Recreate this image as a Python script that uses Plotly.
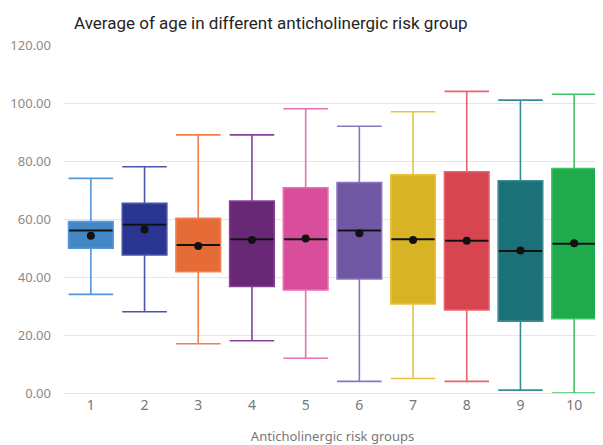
import plotly.graph_objects as go

groups = ["1", "2", "3", "4", "5", "6", "7", "8", "9", "10"]
q1 = [49.9, 47.6, 41.8, 36.7, 35.5, 39.3, 30.7, 28.6, 24.8, 25.6]
median = [56.0, 58.0, 51.0, 53.0, 53.0, 56.0, 53.0, 52.5, 49.0, 51.5]
q3 = [59.1, 65.4, 60.2, 66.2, 70.8, 72.6, 75.2, 76.3, 73.2, 77.4]
lower = [34, 28, 17, 18, 12, 4, 5, 4, 1, 0]
upper = [74, 78, 89, 89, 98, 92, 97, 104, 101, 103]
mean = [54.2, 56.4, 50.7, 52.8, 53.3, 55.1, 52.8, 52.5, 49.1, 51.6]

fills = ["#4487C7", "#2A3591", "#E56C37", "#682876", "#D84E9B",
         "#6F57A3", "#D8B326", "#D64550", "#1C7078", "#1FAB4B"]
lines = ["#5596D8", "#4A55A8", "#F08050", "#86409A", "#E870B0",
         "#8C74BE", "#E6C440", "#E86470", "#3A8C94", "#40C068"]

fig = go.Figure()
for i, g in enumerate(groups):
    fig.add_trace(go.Box(
        x=[g], q1=[q1[i]], median=[median[i]], q3=[q3[i]],
        lowerfence=[lower[i]], upperfence=[upper[i]],
        fillcolor=fills[i], line=dict(color=lines[i], width=1.6),
        width=0.83, whiskerwidth=1, boxpoints=False, showlegend=False,
        hoverinfo="skip",
    ))

fig.add_trace(go.Scatter(
    x=groups, y=median, mode="markers", showlegend=False, hoverinfo="skip",
    marker=dict(symbol="line-ew", size=31, line=dict(color="#111111", width=2)),
))
fig.add_trace(go.Scatter(
    x=groups, y=mean, mode="markers", showlegend=False, hoverinfo="skip",
    marker=dict(symbol="circle", size=8, color="#111111"),
))

fig.update_layout(
    width=595, height=437,
    margin=dict(l=54, r=2, t=37, b=52),
    plot_bgcolor="white", paper_bgcolor="white",
    title=dict(text="Average of age in different anticholinergic risk group",
               x=66/595, xanchor="left", y=1-15/437, yanchor="middle",
               font=dict(family="Roboto", size=17, color="#252423")),
    font=dict(family="Noto Sans", color="#777777"),
)
fig.update_xaxes(
    type="category", range=[-0.5, 9.5],
    showgrid=False, zeroline=False, showline=False,
    tickfont=dict(size=14, color="#777777"), ticklabelstandoff=2,
    title=dict(text="Anticholinergic risk groups", standoff=20,
               font=dict(size=13, color="#777777")),
)
fig.update_yaxes(
    range=[0, 120], dtick=20, tickformat=".2f",
    showgrid=True, gridcolor="#E6E6E6", gridwidth=1,
    zeroline=True, zerolinecolor="#E6E6E6", zerolinewidth=1,
    showline=False, ticklabelstandoff=12,
    tickfont=dict(size=13, color="#8A8A8A"),
)

fig.write_html("out.html")
